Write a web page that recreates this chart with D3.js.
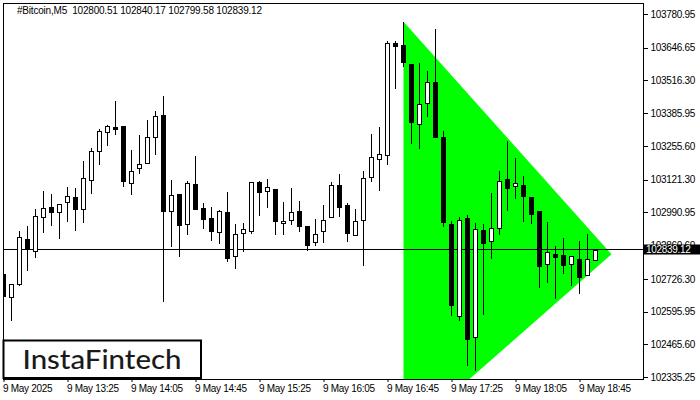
<!DOCTYPE html>
<html><head><meta charset="utf-8">
<script src="https://cdn.jsdelivr.net/npm/d3@7/dist/d3.min.js"></script>
<style>body{margin:0;background:#fff}svg{display:block}</style>
</head><body><svg id="c" width="700" height="400"></svg>
<script>
const title = "#Bitcoin,M5  102800.51 102840.17 102799.58 102839.12";
const opens = [102745.5,102655.1,102705.7,102883.7,102838.3,102973.7,103011.1,102991.2,103033.4,103052.1,
103005.6,103118.7,103234.2,103309.8,103329.7,103334.9,103109.1,103166.4,103188.8,103289.9,
103377.5,102995.2,103064.1,102943.4,103103.9,103007.1,102967.3,102911.6,102991.2,102816.0,
102907.6,102917.9,103110.7,103074.8,103082.8,102947.4,102959.4,102995.2,102935.5,102871.7,
102915.5,102971.3,103099.9,103020.3,102899.6,102959.4,103130.6,103202.3,103218.2,103664.3,
103657.5,103581.8,103341.7,103425.3,103510.1,103291.1,102944.6,102579.4,102967.3,102493.4,
102920.7,102875.7,102927.5,103122.6,103094.8,103099.9,103051.0,102995.2,102784.1,102823.9,
102820.0,102784.1,102804.0,102742.7,102800.51];
const highs = [102857.0,102705.7,102916.7,102936.7,103004.4,103076.0,103064.1,103026.0,103093.2,103088.0,
103195.5,103247.3,103321.8,103338.9,103434.5,103336.0,103239.3,103299.1,103360.0,103395.8,
103454.4,103119.9,103066.0,103115.9,103215.4,103028.3,103012.3,103000.4,103072.1,102944.6,
102948.6,103112.0,103115.9,103123.8,103084.0,103032.2,103088.0,103036.2,102937.0,102964.5,
103020.3,103110.7,103143.7,103028.3,103004.4,103155.7,103303.1,103330.9,103672.2,103672.2,
103750.3,103583.0,103584.6,103554.0,103721.2,103315.0,102956.6,102973.7,102980.5,102947.4,
102944.6,103066.9,103155.7,103276.4,103207.5,103135.8,103052.0,102996.0,102952.6,102855.8,
102887.7,102817.0,102878.1,102904.8,102840.17];
const lows = [102653.9,102559.5,102697.7,102758.6,102810.4,102907.6,102937.8,102883.7,102953.8,102917.9,
102947.4,103065.3,103180.8,103256.5,103300.3,103093.2,103058.9,103144.9,103186.0,103220.6,
102635.2,102854.2,102814.4,102902.0,103001.0,102924.7,102878.1,102866.2,102794.5,102766.6,
102834.3,102906.0,102977.7,103009.5,102902.0,102902.0,102941.8,102914.0,102838.3,102858.2,
102870.1,102970.0,102973.7,102874.1,102898.0,102778.5,103113.1,103077.2,103180.8,103483.5,
103571.1,103262.0,103242.1,103371.9,103288.3,102933.9,102579.4,102559.5,102380.3,102359.2,
102582.2,102806.4,102902.0,102997.6,103044.2,102953.8,102945.8,102690.9,102709.6,102647.1,
102746.7,102698.9,102667.0,102741.0,102799.58];
const closes = [102657.9,102704.5,102891.6,102843.9,102975.3,103007.1,102993.6,103024.3,103056.1,103005.6,
103126.6,103234.2,103315.0,103333.7,103324.2,103117.1,103154.5,103182.4,103289.9,103373.5,
102997.6,103060.1,102941.8,103106.7,103003.2,102965.7,102917.9,102995.2,102810.4,102903.6,
102923.5,103110.7,103073.3,103090.8,102957.8,102955.4,102991.2,102937.8,102862.2,102903.6,
102959.4,103099.9,103013.5,102907.6,102955.4,103126.6,103211.5,103222.2,103664.3,103654.7,
103591.0,103352.0,103421.3,103510.1,103292.3,102953.8,102622.0,102960.5,102486.6,102923.5,
102870.1,102927.5,103114.7,103089.2,103106.7,103057.3,102985.6,102778.5,102831.9,102814.4,
102782.5,102816.0,102732.3,102804.0,102839.12];
const yTicks = [103780.95,103646.65,103516.30,103385.95,103255.60,103121.30,102990.95,102860.60,102726.30,102595.95,102465.60,102335.25];
const xTickIdx = [0,8,16,24,32,40,48,56,64,72];
const xTickLabels = ["9 May 2025","9 May 13:25","9 May 14:05","9 May 14:45","9 May 15:25","9 May 16:05","9 May 16:45","9 May 17:25","9 May 18:05","9 May 18:45"];
const triIdx = [50,76,50];
const triPrice = [103750.3,102823.9,102096.3];
const lastPrice = 102839.12;
const logoText = "InstaFintech";

const W=700,H=400, L=3, R=643.5, T=3, B=379;
const svg = d3.select("#c");
svg.append("rect").attr("width",W).attr("height",H).attr("fill","#fff");
const x = d3.scaleLinear().domain([0,74]).range([3.5,595.5]);
const y = d3.scaleLinear().domain([102335.25,103780.95]).range([377,14]);
const font = "'Liberation Sans', Arial, sans-serif";

svg.append("defs").append("clipPath").attr("id","pc").append("rect")
  .attr("x",L).attr("y",T).attr("width",R-L).attr("height",B-T);
const plot = svg.append("g").attr("clip-path","url(#pc)");

// triangle
plot.append("polygon")
  .attr("points", triIdx.map((d,i)=>x(d)+","+y(triPrice[i])).join(" "))
  .attr("fill","#00ff00");

// price line
const py = Math.floor(y(lastPrice))-0.5;
plot.append("line").attr("x1",L).attr("x2",R).attr("y1",py).attr("y2",py)
  .attr("stroke","#000").attr("stroke-width",1);

// candles
const data = opens.map((o,i)=>({i,o,h:highs[i],l:lows[i],c:closes[i]}));
const cg = plot.append("g");
cg.selectAll("line.w").data(data).enter().append("line")
  .attr("x1",d=>x(d.i)).attr("x2",d=>x(d.i))
  .attr("y1",d=>Math.round(y(d.h))).attr("y2",d=>Math.round(y(d.l)))
  .attr("stroke","#000").attr("stroke-width",1);
cg.selectAll("rect.b").data(data).enter().append("rect")
  .attr("x",d=>x(d.i)-2)
  .attr("y",d=>Math.round(y(Math.max(d.o,d.c)))+0.5)
  .attr("width",4)
  .attr("height",d=>Math.max(1,Math.round(y(Math.min(d.o,d.c)))-Math.round(y(Math.max(d.o,d.c)))))
  .attr("fill",d=>d.c>=d.o?"#fff":"#000")
  .attr("stroke","#000").attr("stroke-width",1);

// frame
svg.append("path").attr("d",`M${L},${B}V${T}H${R}V${B}H${L}`)
  .attr("fill","none").attr("stroke","#000").attr("stroke-width",1).attr("shape-rendering","crispEdges");

// y axis
const ya = svg.append("g").attr("transform",`translate(${R},0)`)
  .call(d3.axisRight(y).tickValues(yTicks).tickFormat(d=>d.toFixed(2)).tickSize(4).tickPadding(3));
ya.select(".domain").remove();
ya.selectAll("text").attr("font-family",font).attr("font-size",10).attr("letter-spacing","-0.3px").attr("fill","#000");
ya.selectAll("line").attr("stroke","#000").attr("shape-rendering","crispEdges");

// x axis
const xa = svg.append("g").attr("transform",`translate(0,${B})`)
  .call(d3.axisBottom(x).tickValues(xTickIdx).tickFormat((d,i)=>xTickLabels[i]).tickSize(3).tickPadding(3));
xa.select(".domain").remove();
xa.selectAll("text").attr("font-family",font).attr("font-size",10).attr("letter-spacing","-0.3px")
  .attr("text-anchor","start").attr("dx",-1).attr("fill","#000");
xa.selectAll("line").attr("stroke","#000");

// last price box
svg.append("rect").attr("x",644).attr("y",py-5).attr("width",56).attr("height",10).attr("fill","#000");
svg.append("text").attr("x",646).attr("y",py+3.5).attr("font-family",font).attr("font-size",10)
  .attr("letter-spacing","-0.3px").attr("fill","#fff").text(lastPrice.toFixed(2));

// title
svg.append("text").attr("x",17).attr("y",14).attr("font-family",font).attr("font-size",10)
  .attr("letter-spacing","-0.2px").attr("fill","#000").attr("xml:space","preserve").style("white-space","pre").text(title);

// logo
svg.append("rect").attr("x",3.5).attr("y",340.5).attr("width",197.5).attr("height",37.5)
  .attr("fill","#fff").attr("stroke","#000").attr("stroke-width",2);
svg.append("text").attr("x",102).attr("y",369).attr("text-anchor","middle")
  .attr("font-family","Lato, 'Noto Sans', sans-serif").attr("font-size",26).attr("font-weight",500)
  .attr("fill","#1a1a1a").attr("textLength",159).attr("lengthAdjust","spacingAndGlyphs").text(logoText);
</script></body></html>
